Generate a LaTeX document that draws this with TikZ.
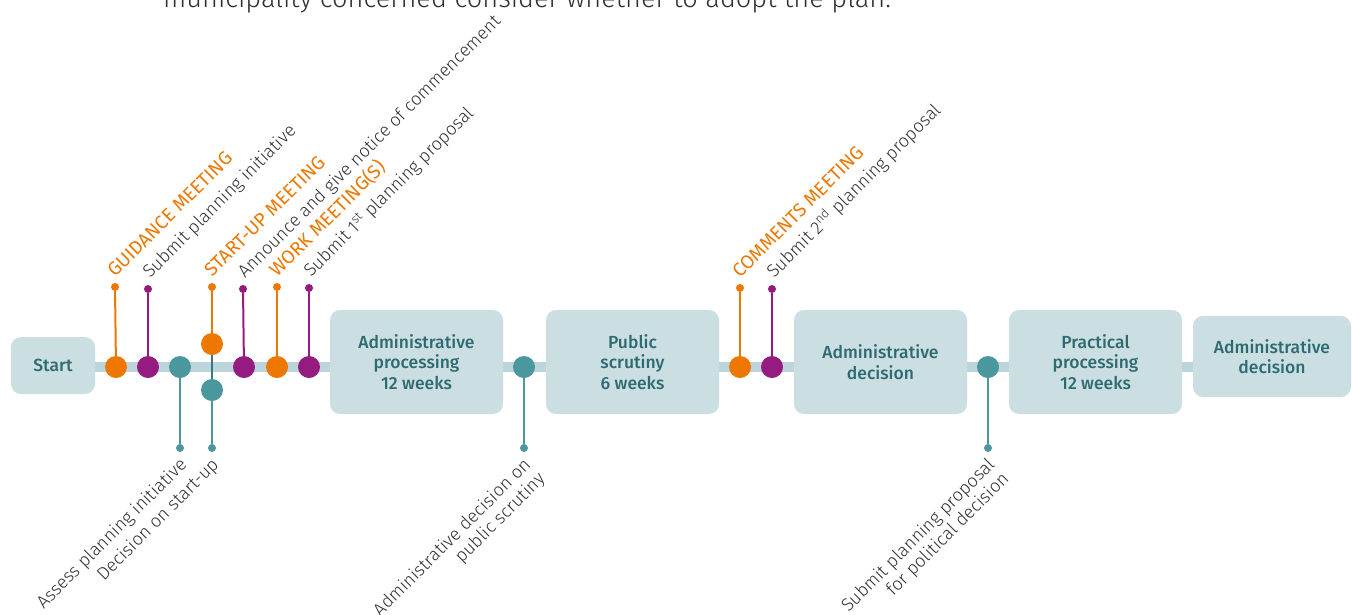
\documentclass[tikz,border=0pt]{standalone}
\usepackage{fontspec}
\setmainfont{Fira Sans}
\newfontfamily\lightfont{Fira Sans Light}
\newfontfamily\medfont{Fira Sans Medium}
\usetikzlibrary{calc,backgrounds}

\definecolor{trackc}{HTML}{BCD5DA}
\definecolor{boxfill}{HTML}{CBDFE3}
\definecolor{boxtext}{HTML}{2E6B71}
\definecolor{cOrange}{HTML}{EE7700}
\definecolor{cPurple}{HTML}{951B80}
\definecolor{cTeal}{HTML}{4A979E}
\definecolor{cTealDark}{HTML}{3A787D}
\definecolor{labeltext}{HTML}{2F2F2F}

\tikzset{
  stagebox/.style={fill=boxfill, rounded corners=10pt, text=boxtext,
    font=\medfont\fontsize{17.5}{20.5}\selectfont, align=center, inner sep=0pt},
  milestone/.style={circle, fill=#1, minimum size=22pt, inner sep=0pt},
  enddot/.style={circle, fill=#1, minimum size=8pt, inner sep=0pt},
  stem/.style={draw=#1, line width=2pt},
  toplabel/.style={rotate=45, anchor=base west, inner sep=0pt, text=labeltext,
    font=\lightfont\fontsize{18}{20}\selectfont},
  meetlabel/.style={rotate=45, anchor=base west, inner sep=0pt, text=cOrange,
    font=\fontsize{19}{20}\selectfont},
  botlabel/.style={rotate=45, anchor=north east, inner sep=0pt, text=labeltext,
    align=right, font=\lightfont\fontsize{18}{20}\selectfont},
}

\begin{document}
\begin{tikzpicture}[x=1pt, y=-1pt]
\useasboundingbox (0,0) rectangle (1352,614);

% heading line running off the top edge
\node[anchor=base west, inner sep=0pt, text=labeltext,
  font=\lightfont\fontsize{27.2}{30}\selectfont] (head) at (163,7)
  {municipality concerned consider whether to adopt the plan.};

% process stages
\node[stagebox, minimum width=84pt, minimum height=57pt] (start) at (53,365.5) {Start};
\node[stagebox, minimum width=173pt, minimum height=104pt] (adm1) at (416.5,362) {Administrative\\processing\\12 weeks};
\node[stagebox, minimum width=173pt, minimum height=104pt] (pub) at (632.5,362) {Public\\scrutiny\\6 weeks};
\node[stagebox, minimum width=173pt, minimum height=104pt] (adm2) at (880.5,362) {Administrative\\decision};
\node[stagebox, minimum width=173pt, minimum height=104pt] (prac) at (1095.5,362) {Practical\\processing\\12 weeks};
\node[stagebox, minimum width=158pt, minimum height=81pt] (adm3) at (1272,356.5) {Administrative\\decision};

% milestones on the track
\node[milestone=cOrange] (m1) at (116,367) {};
\node[milestone=cPurple] (m2) at (148,367) {};
\node[milestone=cTeal]   (m3) at (180,367) {};
\node[milestone=cOrange] (m4) at (212,344) {};
\node[milestone=cTeal]   (m5) at (212,390) {};
\node[milestone=cPurple] (m6) at (244,367) {};
\node[milestone=cOrange] (m7) at (277,367) {};
\node[milestone=cPurple] (m8) at (309,367) {};
\node[milestone=cTeal]   (m9) at (524,367) {};
\node[milestone=cOrange] (m10) at (740,367) {};
\node[milestone=cPurple] (m11) at (772,367) {};
\node[milestone=cTeal]   (m12) at (988,367) {};

% stem ends
\node[enddot=cOrange] (d1) at (115,287) {};
\node[enddot=cPurple] (d2) at (148,289) {};
\node[enddot=cTeal]   (d3) at (180,448) {};
\node[enddot=cOrange] (d4) at (212,287) {};
\node[enddot=cTeal]   (d5) at (212,448) {};
\node[enddot=cPurple] (d6) at (243,289) {};
\node[enddot=cOrange] (d7) at (277,287) {};
\node[enddot=cPurple] (d8) at (309,288) {};
\node[enddot=cTeal]   (d9) at (524,448) {};
\node[enddot=cOrange] (d10) at (740,288) {};
\node[enddot=cPurple] (d11) at (772,289) {};
\node[enddot=cTeal]   (d12) at (988,448) {};

\begin{scope}[on background layer]
  \draw[trackc, line width=10pt] (start.center |- m1) -- (adm3.center |- m1);
  \draw[stem=cOrange] (m1) -- (d1);
  \draw[stem=cPurple] (m2) -- (d2);
  \draw[stem=cTeal]   (m3) -- (d3);
  \draw[stem=cOrange] (m4) -- (d4);
  \draw[stem=cTealDark] (m4) -- (m5);
  \draw[stem=cTeal]   (m5) -- (d5);
  \draw[stem=cPurple] (m6) -- (d6);
  \draw[stem=cOrange] (m7) -- (d7);
  \draw[stem=cPurple] (m8) -- (d8);
  \draw[stem=cTeal]   (m9) -- (d9);
  \draw[stem=cOrange] (m10) -- (d10);
  \draw[stem=cPurple] (m11) -- (d11);
  \draw[stem=cTeal]   (m12) -- (d12);
\end{scope}

% labels above the track
\node[meetlabel] (l1) at ($(d1)+(0,-9)$) {GUIDANCE MEETING};
\node[toplabel]  (l2) at ($(d2)+(2,-10)$) {Submit planning initiative};
\node[meetlabel] (l4) at ($(d4)+(0,-9)$) {START-UP MEETING};
\node[toplabel]  (l6) at ($(d6)+(2,-10)$) {Announce and give notice of commencement};
\node[meetlabel] (l7) at ($(d7)+(0,-9)$) {WORK MEETING(S)};
\node[toplabel]  (l8) at ($(d8)+(2,-10)$) {Submit 1\textsuperscript{st} planning proposal};
\node[meetlabel] (l10) at ($(d10)+(0,-9)$) {COMMENTS MEETING};
\node[toplabel]  (l11) at ($(d11)+(2,-10)$) {Submit 2\textsuperscript{nd} planning proposal};

% labels below the track
\node[botlabel] (l3) at ($(d3)+(-2,8)$) {Assess planning initiative};
\node[botlabel] (l5) at ($(d5)+(-2,8)$) {Decision on start-up};
\node[botlabel] (l9) at ($(d9)+(-2,8)$) {Administrative decision on\\public scrutiny};
\node[botlabel] (l12) at ($(d12)+(-2,8)$) {Submit planning proposal\\for political decision};
\end{tikzpicture}
\end{document}
